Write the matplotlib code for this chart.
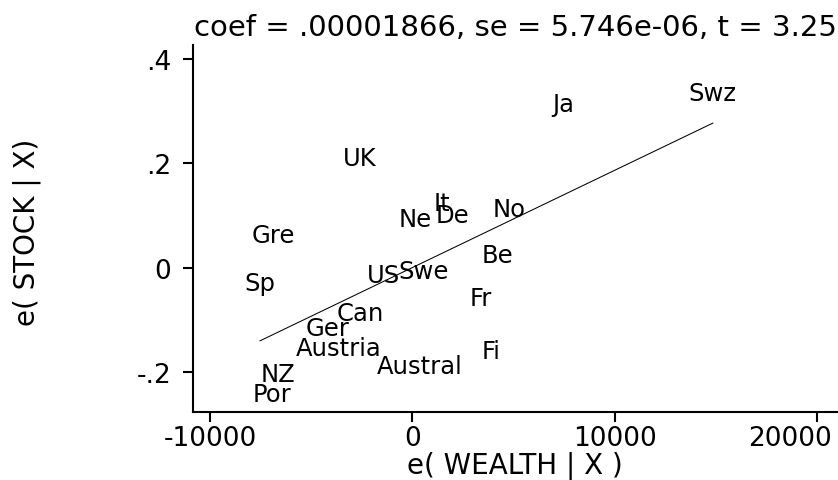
import numpy as np
import matplotlib as mpl
mpl.use("Agg")
import matplotlib.pyplot as plt

plt.rcParams["font.family"] = ["DejaVu Sans"]

# added-variable residuals: e(WEALTH | X) vs e(STOCK | X)
countries = ["Swz", "Ja", "UK", "It", "De", "Ne", "No", "Gre", "Be", "Sp",
             "US", "Swe", "Fr", "Can", "Ger", "Austria", "Fi", "Austral", "NZ", "Por"]
e_wealth = [14851, 7475, -2624, 1485, 1980, 149, 4802, -6881, 4208, -7525,
            -1436, 545, 3366, -2574, -4208, -3663, 3911, 347, -6634, -6931]
e_stock = [0.339, 0.318, 0.215, 0.128, 0.105, 0.098, 0.117, 0.067, 0.029, -0.025,
           -0.010, -0.002, -0.054, -0.082, -0.111, -0.150, -0.155, -0.184, -0.199, -0.238]

coef = 0.00001866
se = 5.746e-06
t = 3.25

xticks = [-10000, 0, 10000, 20000]
xtick_labels = ["-10000", "0", "10000", "20000"]
yticks = [-0.2, 0, 0.2, 0.4]
ytick_labels = ["-.2", "0", ".2", ".4"]

W, H = 838, 481
fig = plt.figure(figsize=(W / 100, H / 100), dpi=100)
ax = fig.add_axes([193 / W, 1 - 413 / H, 1 - 193 / W, (413 - 46) / H])

for name, x, y in zip(countries, e_wealth, e_stock):
    ax.text(x, y, name, ha="center", va="center_baseline", fontsize=17.5)

# fitted line through the origin, spanning the data range
xs = np.array([min(e_wealth), max(e_wealth)])
ax.plot(xs, coef * xs, color="black", lw=0.75)

ax.set_xlim(-10840, 21040)
ax.set_ylim(-0.277, 0.427)
ax.set_xticks(xticks)
ax.set_xticklabels(xtick_labels[:-1] + [""])
ax.set_yticks(yticks)
ax.set_yticklabels(ytick_labels)
ax.tick_params(axis="x", length=7.2, width=1.5, labelsize=19, pad=2.5)
ax.tick_params(axis="y", length=7.2, width=1.5, labelsize=19, pad=8.5)

# last x label is pulled inward so it stays inside the figure
ax.annotate(xtick_labels[-1], xy=(xticks[-1], 0), xycoords=("data", "axes fraction"),
            xytext=(11, -9.7), textcoords="offset points",
            ha="right", va="top", fontsize=19)

for s in ["top", "right"]:
    ax.spines[s].set_visible(False)
for s in ["left", "bottom"]:
    ax.spines[s].set_linewidth(1.5)

fig.text(515 / W, 1 - 474 / H, "e( WEALTH | X )", ha="center", va="baseline", fontsize=20)
fig.text(27 / W, 1 - 232 / H, "e( STOCK | X)", ha="center", va="center",
         rotation=90, fontsize=20)
fig.text(515 / W, 1 - 36 / H, "coef = .00001866, se = 5.746e-06, t = 3.25",
         ha="center", va="baseline", fontsize=21)

fig.savefig("out.png", dpi=100, facecolor="white")
